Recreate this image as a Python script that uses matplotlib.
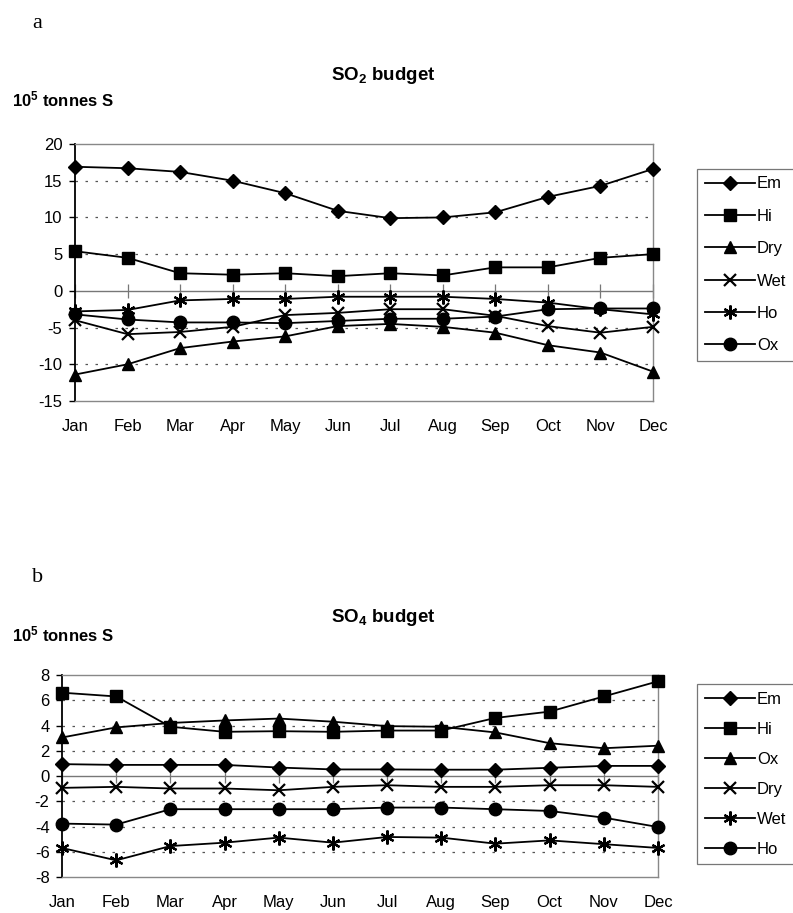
import matplotlib
matplotlib.use("Agg")
import matplotlib.pyplot as plt
from matplotlib.lines import Line2D

plt.rcParams['font.family'] = ['Liberation Sans', 'DejaVu Sans']
plt.rcParams['mathtext.default'] = 'regular'
plt.rcParams['axes.unicode_minus'] = False

months = ["Jan", "Feb", "Mar", "Apr", "May", "Jun",
          "Jul", "Aug", "Sep", "Oct", "Nov", "Dec"]

# SO2 budget terms (10^5 tonnes S)
so2_em = [16.9, 16.7, 16.2, 15.0, 13.3, 10.9, 9.9, 10.0, 10.7, 12.8, 14.3, 16.6]
so2_hi = [5.4, 4.5, 2.4, 2.2, 2.4, 2.0, 2.4, 2.1, 3.2, 3.2, 4.5, 5.0]
so2_dry = [-11.4, -10.0, -7.8, -6.9, -6.2, -4.8, -4.5, -4.9, -5.7, -7.4, -8.4, -11.0]
so2_wet = [-4.0, -5.9, -5.6, -4.9, -3.3, -3.0, -2.5, -2.5, -3.4, -4.8, -5.7, -4.9]
so2_ho = [-2.8, -2.6, -1.3, -1.1, -1.1, -0.8, -0.8, -0.8, -1.1, -1.6, -2.5, -3.2]
so2_ox = [-3.2, -3.9, -4.3, -4.3, -4.4, -4.1, -3.8, -3.8, -3.5, -2.5, -2.4, -2.4]

# SO4 budget terms (10^5 tonnes S)
so4_em = [0.94, 0.88, 0.88, 0.88, 0.67, 0.52, 0.52, 0.50, 0.50, 0.65, 0.80, 0.80]
so4_hi = [6.6, 6.3, 3.9, 3.5, 3.55, 3.5, 3.6, 3.6, 4.6, 5.1, 6.3, 7.5]
so4_ox = [3.05, 3.85, 4.2, 4.4, 4.55, 4.3, 3.95, 3.9, 3.45, 2.6, 2.2, 2.4]
so4_dry = [-0.94, -0.86, -0.99, -0.99, -1.13, -0.86, -0.73, -0.86, -0.86, -0.73, -0.73, -0.86]
so4_wet = [-5.7, -6.68, -5.55, -5.28, -4.88, -5.28, -4.83, -4.88, -5.36, -5.1, -5.4, -5.7]
so4_ho = [-3.77, -3.85, -2.63, -2.63, -2.63, -2.63, -2.5, -2.5, -2.63, -2.77, -3.3, -4.04]

ASTERISK = (6, 2, 0)
MARKERS = {
    "diamond": dict(marker="D", ms=7),
    "square": dict(marker="s", ms=9),
    "triangle": dict(marker="^", ms=8.5),
    "cross": dict(marker="x", ms=9, mew=1.6),
    "star": dict(marker=ASTERISK, ms=10, mew=1.6),
    "circle": dict(marker="o", ms=9),
}
TICK_SIZE = 12


def draw_budget(fig, rect, series, ylim, ystep, legend_rect, spacing):
    ax = fig.add_axes(rect)
    x = list(range(len(months)))

    # dotted gridlines and the zero line with its category ticks
    for yv in range(ylim[0] + ystep, ylim[1], ystep):
        if yv == 0:
            continue
        ax.axhline(yv, color="#555555", lw=0.9, ls=(0, (2, 6)), zorder=1)
    ax.axhline(0, color="#777777", lw=1.0, zorder=1)
    ax.plot(x, [0] * len(x), ls="none", marker="|", ms=10, mew=0.9,
            color="#777777", zorder=1, clip_on=False)

    handles = []
    for label, values, style in series:
        ax.plot(x, values, color="black", lw=1.3, mfc="black",
                mec="black", clip_on=False, zorder=3, **MARKERS[style])
        handles.append(Line2D([0], [0], color="black", lw=1.3, mfc="black",
                              mec="black", **MARKERS[style]))

    ax.set_xlim(0, 11)
    ax.set_ylim(*ylim)
    ax.set_yticks(range(ylim[0], ylim[1] + 1, ystep))
    ax.set_xticks(x)
    ax.set_xticklabels(months)
    ax.tick_params(axis="x", length=0, pad=13, labelsize=TICK_SIZE)
    ax.tick_params(axis="y", length=4, width=1, pad=5, labelsize=TICK_SIZE,
                   direction="out")

    for side in ("top", "right", "bottom"):
        ax.spines[side].set_color("#888888")
        ax.spines[side].set_linewidth(1.0)
    ax.spines["left"].set_color("black")
    ax.spines["left"].set_linewidth(1.3)

    leg = fig.legend(handles, [s[0] for s in series], loc="upper left",
                     bbox_to_anchor=legend_rect, bbox_transform=fig.transFigure,
                     borderaxespad=0, frameon=True, fancybox=False,
                     handlelength=3.0, handletextpad=0.15,
                     labelspacing=spacing, fontsize=TICK_SIZE, borderpad=0.45)
    leg.get_frame().set_edgecolor("#555555")
    leg.get_frame().set_linewidth(0.9)
    return ax


W, H = 793, 913
fig = plt.figure(figsize=(W / 100, H / 100), dpi=100, facecolor="white")

# panel a: SO2
draw_budget(
    fig,
    [75 / W, 1 - 401 / H, 578 / W, 257 / H],
    [("Em", so2_em, "diamond"), ("Hi", so2_hi, "square"),
     ("Dry", so2_dry, "triangle"), ("Wet", so2_wet, "cross"),
     ("Ho", so2_ho, "star"), ("Ox", so2_ox, "circle")],
    (-15, 20), 5, (697 / W, 1 - 169 / H), 1.04,
)
fig.text(32 / W, 1 - 24 / H, "a", family="Liberation Serif", fontsize=16,
         va="center", ha="left")
fig.text(383 / W, 1 - 75 / H, "SO$_2$ budget", fontsize=13.5, fontweight="bold",
         ha="center", va="center")
fig.text(12 / W, 1 - 99 / H, "10$^5$ tonnes S", fontsize=12,
         fontweight="bold", ha="left", va="center")

# panel b: SO4
draw_budget(
    fig,
    [62 / W, 1 - 877 / H, 596 / W, 202 / H],
    [("Em", so4_em, "diamond"), ("Hi", so4_hi, "square"),
     ("Ox", so4_ox, "triangle"), ("Dry", so4_dry, "cross"),
     ("Wet", so4_wet, "star"), ("Ho", so4_ho, "circle")],
    (-8, 8), 2, (697 / W, 1 - 684 / H), 0.9,
)
fig.text(32 / W, 1 - 577 / H, "b", family="Liberation Serif", fontsize=16,
         va="center", ha="left")
fig.text(383 / W, 1 - 617 / H, "SO$_4$ budget", fontsize=13.5, fontweight="bold",
         ha="center", va="center")
fig.text(12 / W, 1 - 634 / H, "10$^5$ tonnes S", fontsize=12,
         fontweight="bold", ha="left", va="center")

fig.savefig("out.png", dpi=100, facecolor="white")
